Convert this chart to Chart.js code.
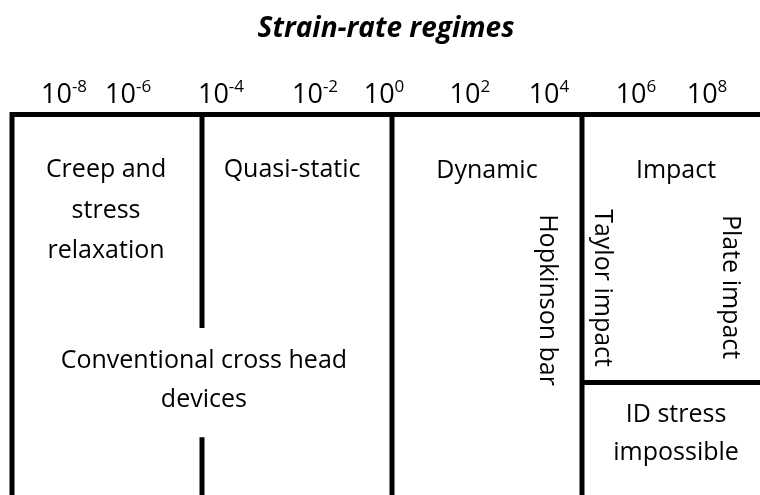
<!DOCTYPE html>
<html>
<head>
<meta charset="utf-8">
<script src="https://cdn.jsdelivr.net/npm/chart.js@4/dist/chart.umd.min.js"></script>
<style>
  html, body { margin: 0; padding: 0; background: #fff; }
  #wrap { width: 760px; height: 495px; }
</style>
</head>
<body>
<div id="wrap"><canvas id="c" width="760" height="495"></canvas></div>
<script>
// ---- Data ----
const chartTitle = "Strain-rate regimes";
const tickBase = "10";
const tickExponents = ["-8", "-6", "-4", "-2", "0", "2", "4", "6", "8"];
// label centres along the regime axis (one regime = 1 unit)
const tickPositions = [0.274, 0.611, 1.100, 1.595, 1.958, 2.410, 2.826, 3.284, 3.658];
const regimeBoundaries = [0, 1, 2, 3];
const regimeNames = [["Creep and", "stress", "relaxation"], ["Quasi-static"], ["Dynamic"], ["Impact"]];
const deviceNames = [["Conventional cross head", "devices"], ["Hopkinson bar"], ["Taylor impact"], ["Plate impact"], ["ID stress", "impossible"]];

// ---- Layout (axis units) ----
const X_MAX = 748 / 190;
const gapTop = 0.561, gapBottom = 0.848, impactSplit = 0.704;

const horizLabels = [
  { lines: regimeNames[0], x: 0.495, y: [0.164, 0.272, 0.377] },
  { lines: regimeNames[1], x: 1.474, y: [0.164] },
  { lines: regimeNames[2], x: 2.500, y: [0.166] },
  { lines: regimeNames[3], x: 3.495, y: [0.166] },
  { lines: deviceNames[0], x: 1.010, y: [0.666, 0.769] },
  { lines: deviceNames[4], x: 3.495, y: [0.808, 0.908] }
];
const vertLabels = [
  { text: deviceNames[1][0], x: 2.779, y: 0.4875 },
  { text: deviceNames[2][0], x: 3.068, y: 0.456 },
  { text: deviceNames[3][0], x: 3.742, y: 0.4534 }
];

const FONT = '"Open Sans", "DejaVu Sans", sans-serif';

function seg(points) {
  return {
    data: points.map(p => ({ x: p[0], y: p[1] })),
    borderColor: '#000', borderWidth: 5, pointRadius: 0,
    borderCapStyle: 'butt', borderJoinStyle: 'miter',
    fill: false, tension: 0, clip: false
  };
}

const datasets = [
  seg([[regimeBoundaries[0], 1], [regimeBoundaries[0], 0], [X_MAX, 0]]),
  seg([[regimeBoundaries[1], 0], [regimeBoundaries[1], gapTop]]),
  seg([[regimeBoundaries[1], gapBottom], [regimeBoundaries[1], 1]]),
  seg([[regimeBoundaries[2], 0], [regimeBoundaries[2], 1]]),
  seg([[regimeBoundaries[3], 0], [regimeBoundaries[3], 1]]),
  seg([[regimeBoundaries[3], impactSplit], [X_MAX, impactSplit]])
];

const textPlugin = {
  id: 'diagramText',
  afterDatasetsDraw(chart) {
    const ctx = chart.ctx;
    const xs = chart.scales.x, ys = chart.scales.y;
    ctx.save();
    ctx.fillStyle = '#000';
    // tick labels with superscripts
    const baseY = 103, supY = 92;
    tickExponents.forEach((e, i) => {
      const cx = xs.getPixelForValue(tickPositions[i]);
      ctx.font = '27px ' + FONT;
      const w1 = ctx.measureText(tickBase).width;
      ctx.font = '17px ' + FONT;
      const w2 = ctx.measureText(e).width;
      const x0 = cx - (w1 + w2) / 2;
      ctx.textAlign = 'left';
      ctx.textBaseline = 'alphabetic';
      ctx.font = '27px ' + FONT;
      ctx.fillText(tickBase, x0, baseY);
      ctx.font = '17px ' + FONT;
      ctx.fillText(e, x0 + w1, supY);
    });
    // horizontal labels
    ctx.font = '25px ' + FONT;
    ctx.textAlign = 'center';
    ctx.textBaseline = 'alphabetic';
    horizLabels.forEach(l => {
      l.lines.forEach((t, j) => {
        ctx.fillText(t, xs.getPixelForValue(l.x), ys.getPixelForValue(l.y[j]));
      });
    });
    // vertical labels (rotated clockwise)
    vertLabels.forEach(l => {
      ctx.save();
      ctx.translate(xs.getPixelForValue(l.x), ys.getPixelForValue(l.y));
      ctx.rotate(Math.PI / 2);
      ctx.fillText(l.text, 0, 0);
      ctx.restore();
    });
    ctx.restore();
  }
};

new Chart(document.getElementById('c'), {
  type: 'line',
  data: { datasets },
  plugins: [textPlugin],
  options: {
    responsive: false,
    animation: false,
    layout: { padding: { left: 12, right: 0, top: 0, bottom: 0 } },
    plugins: {
      legend: { display: false },
      tooltip: { enabled: false },
      title: {
        display: true,
        text: chartTitle,
        color: '#000',
        font: { family: FONT, size: 28, weight: 'bold', style: 'italic', lineHeight: 1.2 },
        padding: { top: 12, bottom: 69 }
      }
    },
    scales: {
      x: { type: 'linear', display: false, min: 0, max: X_MAX },
      y: { type: 'linear', display: false, min: 0, max: 1, reverse: true }
    }
  }
});
</script>
</body>
</html>
